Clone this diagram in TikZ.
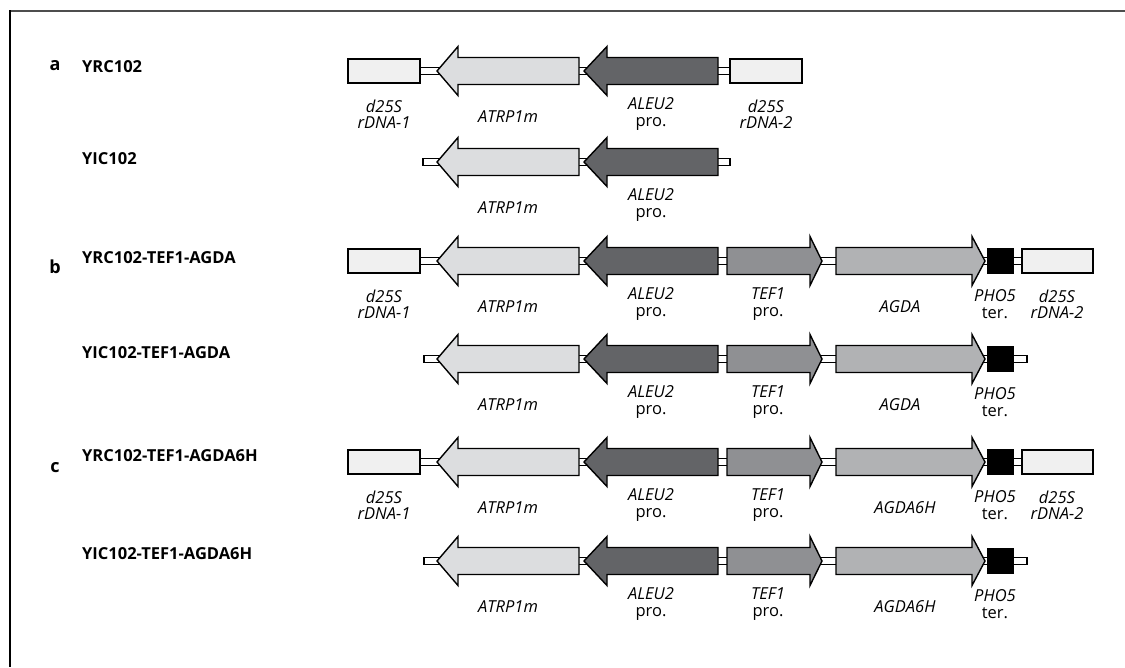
\documentclass[tikz,border=0pt]{standalone}
\usepackage{fontspec}
\setmainfont{Open Sans}
\begin{document}
\begin{tikzpicture}[x=1pt,y=-1pt,
  part/.style={draw=black,line width=1.4pt,line join=miter},
  lbl/.style={font=\fontsize{16.5}{16.5}\selectfont,align=center,inner sep=0pt},
  rowname/.style={font=\fontsize{16.5}{18}\selectfont\bfseries,anchor=west,inner sep=0pt},
  panel/.style={font=\fontsize{18}{18}\selectfont\bfseries,inner sep=0pt}]
\definecolor{rdnafill}{HTML}{F0F0F0}
\definecolor{trpfill}{HTML}{DCDDDF}
\definecolor{leufill}{HTML}{636467}
\definecolor{teffill}{HTML}{8F9093}
\definecolor{agdafill}{HTML}{B1B2B4}
\definecolor{topline}{HTML}{4D4D4D}

% page area and frame (top and left rules only)
\useasboundingbox (0,0) rectangle (1125,667);
\draw[topline,line width=2.5pt] (9.5,11) -- (1125,11);
\draw[black,line width=2pt] (9.5,10) -- (9.5,667);

% building blocks: plain box, thin linker bar, left- and right-pointing genes
\newcommand\genebox[4]{\draw[part,fill=#4] (#1,#3-12) rectangle (#2,#3+12);}
\newcommand\linkbar[3]{\draw[part,fill=white] (#1,#3-3.5) rectangle (#2,#3+3.5);}
\newcommand\leftgene[5]{\draw[part,fill=#5] (#1,#4) -- (#2,#4-24.5) -- (#2,#4-13.5)
  -- (#3,#4-13.5) -- (#3,#4+13.5) -- (#2,#4+13.5) -- (#2,#4+24.5) -- cycle;}
\newcommand\rightgene[5]{\draw[part,fill=#5] (#1,#4-13.5) -- (#2,#4-13.5) -- (#2,#4-24.5)
  -- (#3,#4) -- (#2,#4+24.5) -- (#2,#4+13.5) -- (#1,#4+13.5) -- cycle;}
\newcommand\terbox[1]{\draw[part,fill=black] (988,#1-12.5) rectangle (1013,#1+12.5);}

% ---------- a: YRC102 ----------
\def\yy{71}
\node[panel] (pa) at (55,\yy-5) {a};
\node[rowname] (n1) at (82,\yy-4) {YRC102};
\linkbar{420}{730}{\yy}
\genebox{348}{420}{\yy}{rdnafill}
\leftgene{437}{458}{579}{\yy}{trpfill}
\leftgene{584}{607}{718}{\yy}{leufill}
\genebox{730}{802}{\yy}{rdnafill}
\node[lbl] (r1a) at (384,\yy+43) {\textit{d25S}\\\textit{rDNA-1}};
\node[lbl] (r1b) at (508,\yy+46) {\textit{ATRP1m}};
\node[lbl] (r1c) at (651,\yy+43) {\textit{ALEU2}\\pro.};
\node[lbl] (r1d) at (766,\yy+43) {\textit{d25S}\\\textit{rDNA-2}};

% ---------- YIC102 ----------
\def\yy{162}
\node[rowname] (n2) at (82,\yy-3) {YIC102};
\linkbar{423}{730}{\yy}
\leftgene{437}{458}{579}{\yy}{trpfill}
\leftgene{584}{607}{718}{\yy}{leufill}
\node[lbl] (r2b) at (508,\yy+46) {\textit{ATRP1m}};
\node[lbl] (r2c) at (651,\yy+43) {\textit{ALEU2}\\pro.};

% ---------- b: YRC102-TEF1-AGDA ----------
\def\yy{261}
\node[panel] (pb) at (55,\yy+6) {b};
\node[rowname] (n3) at (82,\yy-3) {YRC102-TEF1-AGDA};
\linkbar{420}{1022}{\yy}
\genebox{348}{420}{\yy}{rdnafill}
\leftgene{437}{458}{579}{\yy}{trpfill}
\leftgene{584}{607}{718}{\yy}{leufill}
\rightgene{727}{810}{822}{\yy}{teffill}
\rightgene{836}{972}{985}{\yy}{agdafill}
\terbox{\yy}
\genebox{1022}{1093}{\yy}{rdnafill}
\node[lbl] (r3a) at (384,\yy+43) {\textit{d25S}\\\textit{rDNA-1}};
\node[lbl] (r3b) at (508,\yy+46) {\textit{ATRP1m}};
\node[lbl] (r3c) at (651,\yy+43) {\textit{ALEU2}\\pro.};
\node[lbl] (r3d) at (768,\yy+43) {\textit{TEF1}\\pro.};
\node[lbl] (r3e) at (900,\yy+46) {\textit{AGDA}};
\node[lbl] (r3f) at (995,\yy+43) {\textit{PHO5}\\ter.};
\node[lbl] (r3g) at (1057,\yy+43) {\textit{d25S}\\\textit{rDNA-2}};

% ---------- YIC102-TEF1-AGDA ----------
\def\yy{359}
\node[rowname] (n4) at (82,\yy-6) {YIC102-TEF1-AGDA};
\linkbar{424}{1027}{\yy}
\leftgene{437}{458}{579}{\yy}{trpfill}
\leftgene{584}{607}{718}{\yy}{leufill}
\rightgene{727}{810}{822}{\yy}{teffill}
\rightgene{836}{972}{985}{\yy}{agdafill}
\terbox{\yy}
\node[lbl] (r4b) at (508,\yy+46) {\textit{ATRP1m}};
\node[lbl] (r4c) at (651,\yy+43) {\textit{ALEU2}\\pro.};
\node[lbl] (r4d) at (768,\yy+43) {\textit{TEF1}\\pro.};
\node[lbl] (r4e) at (900,\yy+46) {\textit{AGDA}};
\node[lbl] (r4f) at (995,\yy+43) {\textit{PHO5}\\ter.};

% ---------- c: YRC102-TEF1-AGDA6H ----------
\def\yy{462}
\node[panel] (pc) at (55,\yy+6) {c};
\node[rowname] (n5) at (82,\yy-6) {YRC102-TEF1-AGDA6H};
\linkbar{420}{1022}{\yy}
\genebox{348}{420}{\yy}{rdnafill}
\leftgene{437}{458}{579}{\yy}{trpfill}
\leftgene{584}{607}{718}{\yy}{leufill}
\rightgene{727}{810}{822}{\yy}{teffill}
\rightgene{836}{972}{985}{\yy}{agdafill}
\terbox{\yy}
\genebox{1022}{1093}{\yy}{rdnafill}
\node[lbl] (r5a) at (384,\yy+43) {\textit{d25S}\\\textit{rDNA-1}};
\node[lbl] (r5b) at (508,\yy+46) {\textit{ATRP1m}};
\node[lbl] (r5c) at (651,\yy+43) {\textit{ALEU2}\\pro.};
\node[lbl] (r5d) at (768,\yy+43) {\textit{TEF1}\\pro.};
\node[lbl] (r5e) at (905,\yy+46) {\textit{AGDA6H}};
\node[lbl] (r5f) at (995,\yy+43) {\textit{PHO5}\\ter.};
\node[lbl] (r5g) at (1057,\yy+43) {\textit{d25S}\\\textit{rDNA-2}};

% ---------- YIC102-TEF1-AGDA6H ----------
\def\yy{561}
\node[rowname] (n6) at (82,\yy-7) {YIC102-TEF1-AGDA6H};
\linkbar{424}{1027}{\yy}
\leftgene{437}{458}{579}{\yy}{trpfill}
\leftgene{584}{607}{718}{\yy}{leufill}
\rightgene{727}{810}{822}{\yy}{teffill}
\rightgene{836}{972}{985}{\yy}{agdafill}
\terbox{\yy}
\node[lbl] (r6b) at (508,\yy+46) {\textit{ATRP1m}};
\node[lbl] (r6c) at (651,\yy+43) {\textit{ALEU2}\\pro.};
\node[lbl] (r6d) at (768,\yy+43) {\textit{TEF1}\\pro.};
\node[lbl] (r6e) at (905,\yy+46) {\textit{AGDA6H}};
\node[lbl] (r6f) at (995,\yy+43) {\textit{PHO5}\\ter.};
\end{tikzpicture}
\end{document}
